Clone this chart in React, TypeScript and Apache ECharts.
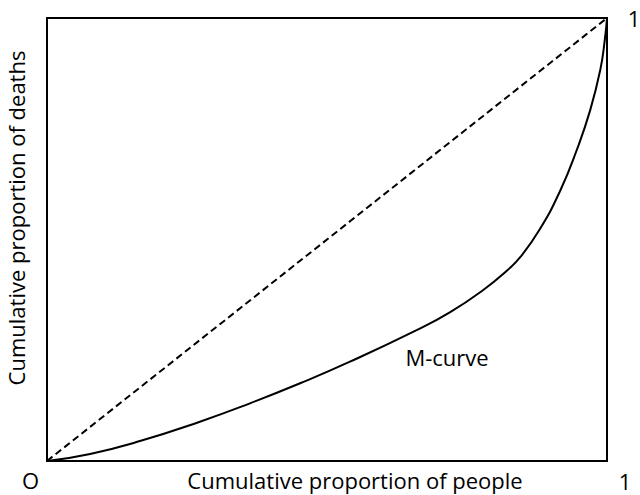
import React, { useEffect, useRef } from "react";
import * as echarts from "echarts";

const curveX = [0, 0.077, 0.166, 0.273, 0.3625, 0.452, 0.541, 0.661, 0.72, 0.779, 0.821, 0.845, 0.88, 0.916, 0.946, 0.97, 0.988, 0.996, 1];
const curveY = [0, 0.016, 0.045, 0.0887, 0.1302, 0.1754, 0.2242, 0.296, 0.336, 0.386, 0.4294, 0.46, 0.523, 0.609, 0.702, 0.792, 0.883, 0.95, 1];
const diagX = [0, 1];
const diagY = [0, 1];
const xTitle = "Cumulative proportion of people";
const yTitle = "Cumulative proportion of deaths";
const curveLabel = "M-curve";
const originLabel = "O";
const endLabel = "1";

const FONT = "'Open Sans', sans-serif";
const txt = (text: string, x: number, y: number, extra: any = {}) => ({
  type: "text",
  x,
  y,
  ...extra,
  style: { text, font: `22px ${FONT}`, fill: "#000", align: "center", verticalAlign: "middle" },
});

export default function App() {
  const ref = useRef<HTMLDivElement>(null);
  useEffect(() => {
    if (!ref.current) return;
    const chart = echarts.init(ref.current, undefined, { renderer: "svg" });
    chart.setOption({
      animation: false,
      backgroundColor: "#fff",
      grid: { left: 47, right: 33, top: 18, bottom: 34, show: true, borderColor: "#000", borderWidth: 2 },
      xAxis: {
        type: "value", min: 0, max: 1,
        axisLine: { show: false }, axisTick: { show: false }, axisLabel: { show: false }, splitLine: { show: false },
      },
      yAxis: {
        type: "value", min: 0, max: 1,
        axisLine: { show: false }, axisTick: { show: false }, axisLabel: { show: false }, splitLine: { show: false },
      },
      series: [
        {
          type: "line", symbol: "none",
          data: diagX.map((x, i) => [x, diagY[i]]),
          lineStyle: { color: "#000", width: 2, type: [7, 4] },
        },
        {
          type: "line", symbol: "none", smooth: 0.5,
          data: curveX.map((x, i) => [x, curveY[i]]),
          lineStyle: { color: "#000", width: 2 },
        },
      ],
      graphic: [
        txt(xTitle, 355, 480),
        txt(yTitle, 16, 218, { rotation: Math.PI / 2 }),
        txt(originLabel, 30.5, 480),
        txt(endLabel, 625, 481),
        txt(endLabel, 634, 18),
        txt(curveLabel, 447, 357),
      ],
    });
    return () => chart.dispose();
  }, []);
  return <div ref={ref} style={{ width: 640, height: 495, position: "absolute", left: 0, top: 0 }} />;
}
